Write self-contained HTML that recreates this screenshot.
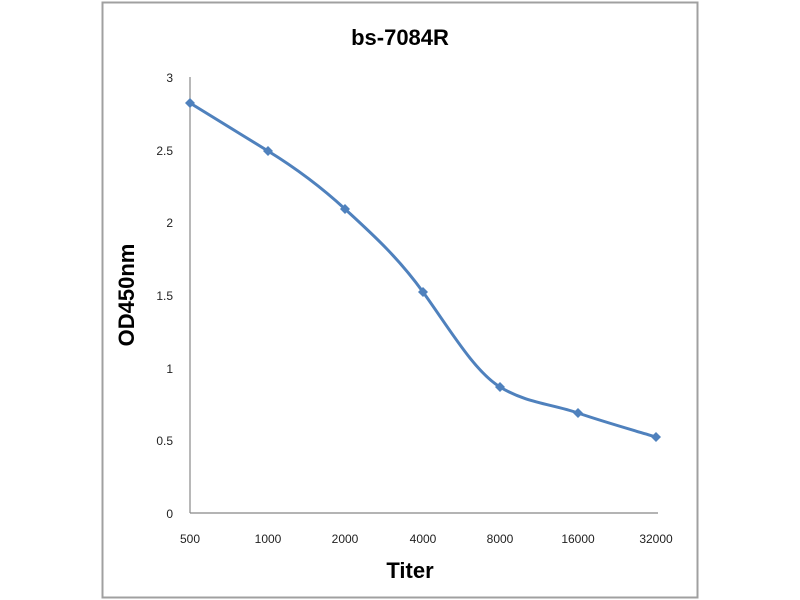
<!DOCTYPE html>
<html><head><style>body{margin:0;background:#fff}svg{display:block}</style></head>
<body>
<svg width="800" height="600" xmlns="http://www.w3.org/2000/svg" font-family="Liberation Sans, sans-serif">
<rect x="0" y="0" width="800" height="600" fill="#fff"/>
<rect x="102.5" y="2.5" width="595" height="595" fill="none" stroke="#a0a0a0" stroke-width="2"/>
<text x="400" y="45" text-anchor="middle" font-size="22" font-weight="bold">bs-7084R</text>
<line x1="190" y1="77" x2="190" y2="513" stroke="#888" stroke-width="1.2"/>
<line x1="190" y1="513" x2="658" y2="513" stroke="#888" stroke-width="1.2"/>
<g font-size="12" text-anchor="end" fill="#222">
<text x="173" y="82">3</text><text x="173" y="155">2.5</text><text x="173" y="227">2</text>
<text x="173" y="300">1.5</text><text x="173" y="373">1</text><text x="173" y="445">0.5</text><text x="173" y="518">0</text>
</g>
<g font-size="12" text-anchor="middle" fill="#222">
<text x="190" y="543">500</text><text x="268" y="543">1000</text><text x="345" y="543">2000</text>
<text x="423" y="543">4000</text><text x="500" y="543">8000</text><text x="578" y="543">16000</text><text x="656" y="543">32000</text>
</g>
<text x="410" y="578" text-anchor="middle" font-size="22" font-weight="bold">Titer</text>
<text transform="translate(134,295) rotate(-90)" text-anchor="middle" font-size="22" font-weight="bold">OD450nm</text>
<path d="M190,103 C203,111 242,135 268,151 C294,167 319,185 345,209 C371,233 397,256 423,292 C449,328 474,371 500,387 C526,403 552,404 578,413 C604,422 643,433 656,437" fill="none" stroke="#4f81bd" stroke-width="3"/>
<g fill="#4f81bd">
<path d="M190,98 l5,5 l-5,5 l-5,-5z"/><path d="M268,146 l5,5 l-5,5 l-5,-5z"/><path d="M345,204 l5,5 l-5,5 l-5,-5z"/>
<path d="M423,287 l5,5 l-5,5 l-5,-5z"/><path d="M500,382 l5,5 l-5,5 l-5,-5z"/><path d="M578,408 l5,5 l-5,5 l-5,-5z"/>
<path d="M656,432 l5,5 l-5,5 l-5,-5z"/>
</g>
</svg>
</body></html>
